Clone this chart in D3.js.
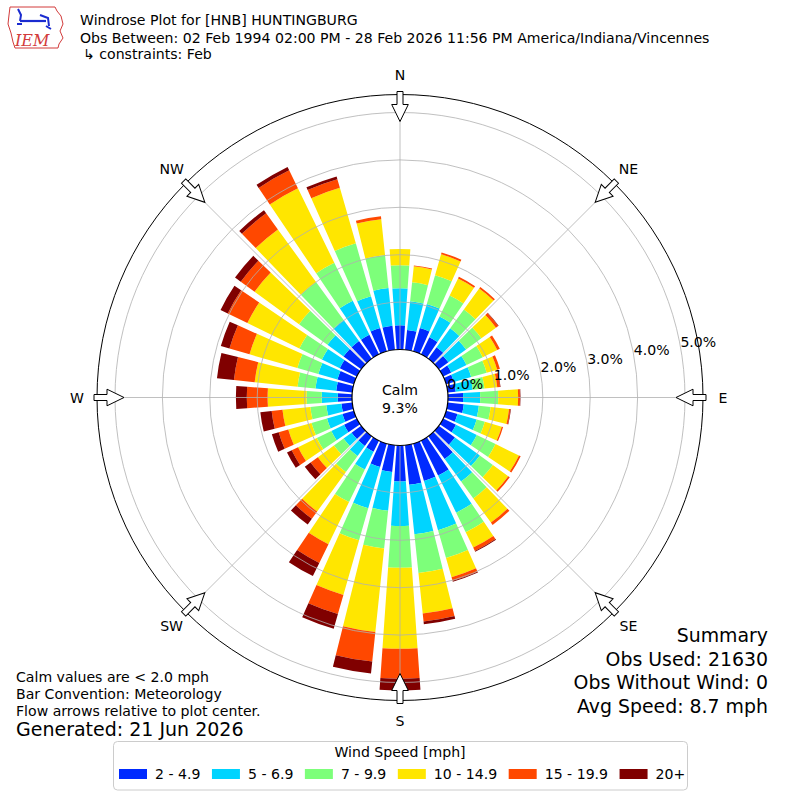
<!DOCTYPE html>
<html>
<head>
<meta charset="utf-8">
<script src="https://cdn.jsdelivr.net/npm/d3@7"></script>
<style>
  body { margin: 0; background: #fff; }
  text { font-family: "DejaVu Sans", sans-serif; fill: #000; }
</style>
</head>
<body>
<svg id="chart" width="800" height="800"></svg>
<script>
// wind directions (degrees, meteorological convention)
const directions = [0, 10, 20, 30, 40, 50, 60, 70, 80, 90, 100, 110, 120, 130, 140, 150, 160, 170,
                    180, 190, 200, 210, 220, 230, 240, 250, 260, 270, 280, 290, 300, 310, 320, 330, 340, 350];

// frequency (%) per speed bin, one value per direction
const s2to4 = [0.51, 0.42, 0.51, 0.40, 0.30, 0.25, 0.19, 0.17, 0.17, 0.32, 0.34, 0.25, 0.30, 0.42, 0.59, 0.82, 0.82, 0.84,
               0.76, 0.57, 0.51, 0.26, 0.25, 0.25, 0.30, 0.25, 0.23, 0.30, 0.34, 0.36, 0.40, 0.46, 0.46, 0.46, 0.51, 0.51];
const s5to6 = [0.78, 0.61, 0.53, 0.49, 0.49, 0.46, 0.36, 0.38, 0.36, 0.36, 0.32, 0.42, 0.49, 0.65, 0.59, 0.87, 1.08, 1.05,
               0.94, 0.82, 0.91, 0.42, 0.26, 0.21, 0.30, 0.34, 0.32, 0.34, 0.44, 0.42, 0.42, 0.42, 0.55, 0.80, 0.70, 0.80];
const s7to9 = [0.49, 0.40, 0.63, 0.49, 0.49, 0.40, 0.38, 0.34, 0.25, 0.38, 0.25, 0.18, 0.44, 0.34, 0.44, 0.46, 0.61, 0.82,
               0.88, 0.80, 0.70, 0.76, 0.42, 0.25, 0.34, 0.34, 0.34, 0.32, 0.38, 0.46, 0.53, 0.74, 0.99, 0.89, 1.16, 0.70];
const s10to14 = [0.34, 0.34, 0.46, 0.40, 0.55, 0.38, 0.34, 0.23, 0.27, 0.42, 0.39, 0.37, 0.55, 0.40, 0.63, 0.36, 0.42, 0.86,
                 1.71, 1.77, 1.20, 0.99, 1.03, 0.42, 0.44, 0.51, 0.59, 0.82, 0.91, 1.05, 1.22, 1.16, 1.37, 1.75, 1.22, 0.76];
const s15to19 = [0.00, 0.02, 0.04, 0.04, 0.04, 0.06, 0.06, 0.06, 0.06, 0.04, 0.03, 0.03, 0.04, 0.04, 0.06, 0.08, 0.08, 0.17,
                 0.63, 0.63, 0.42, 0.44, 0.19, 0.19, 0.15, 0.21, 0.23, 0.44, 0.44, 0.44, 0.46, 0.36, 0.42, 0.42, 0.19, 0.06];
const s20plus = [0.00, 0.00, 0.00, 0.00, 0.00, 0.01, 0.00, 0.00, 0.01, 0.01, 0.01, 0.00, 0.00, 0.00, 0.00, 0.02, 0.02, 0.06,
                 0.25, 0.25, 0.32, 0.31, 0.15, 0.15, 0.11, 0.15, 0.24, 0.23, 0.36, 0.19, 0.17, 0.15, 0.08, 0.08, 0.06, 0.00];

const speedLabels = ["2 - 4.9", "5 - 6.9", "7 - 9.9", "10 - 14.9", "15 - 19.9", "20+"];
const speedColors = ["#002aff", "#00d4ff", "#7dff7a", "#ffe600", "#ff4800", "#800000"];
const ringTicks = [0, 1, 2, 3, 4, 5];
const compass = ["N", "NE", "E", "SE", "S", "SW", "W", "NW"];
const calmPct = 9.3;

const summaryLines = ["Summary", "Obs Used: 21630", "Obs Without Wind: 0", "Avg Speed: 8.7 mph"];
const noteLines = ["Calm values are < 2.0 mph", "Bar Convention: Meteorology", "Flow arrows relative to plot center."];

const svg = d3.select("#chart");
const cx = 400, cy = 397.5;
const outerR = 303;
const rad = deg => deg * Math.PI / 180;

const r = d3.scaleLinear().domain([0, 5]).range([48, 285]);

// ---- header ----
const logo = svg.append("g");
logo.append("path")
  .attr("d", "M10,7 L55,7 L57,11 L61,16 L63,24 L60,31 L63,38 L59,44 L58,48 L15,48 L13,42 L11,33 L8,24 L9,15 Z")
  .attr("fill", "none").attr("stroke", "#d23b3b").attr("stroke-width", 1);
logo.append("path").attr("d", "M20,21 L46,21").attr("stroke", "#1a2bd0").attr("stroke-width", 2.2);
logo.append("path").attr("d", "M18,9 L21,15 L20,21 M17,24 L22,24 M40,15 L48,18 L49,26 M46,26 L51,29")
  .attr("fill", "none").attr("stroke", "#1a2bd0").attr("stroke-width", 2);
logo.append("text").attr("x", 15).attr("y", 46)
  .style("font-family", "'DejaVu Serif', serif").style("font-style", "italic")
  .style("font-size", "16px").style("fill", "#d23b3b").text("IEM");

svg.append("text").attr("x", 80).attr("y", 25).style("font-size", "14.1px")
  .text("Windrose Plot for [HNB] HUNTINGBURG");
svg.append("text").attr("x", 80).attr("y", 43).style("font-size", "14.1px")
  .text("Obs Between: 02 Feb 1994 02:00 PM - 28 Feb 2026 11:56 PM America/Indiana/Vincennes");
svg.append("text").attr("x", 83).attr("y", 59).style("font-size", "14.1px")
  .text("\u21b3 constraints: Feb");

// ---- rose ----
const g = svg.append("g").attr("transform", `translate(${cx},${cy})`);

const keys = ["a", "b", "c", "d", "e", "f"];
const series = [s2to4, s5to6, s7to9, s10to14, s15to19, s20plus];
const rows = directions.map((dir, i) => {
  const row = { dir };
  keys.forEach((k, j) => { row[k] = series[j][i]; });
  return row;
});
const stacked = d3.stack().keys(keys)(rows);

const half = rad(4);
const arc = d3.arc();

g.selectAll("g.layer")
  .data(stacked)
  .join("g")
  .attr("class", "layer")
  .attr("fill", (d, i) => speedColors[i])
  .selectAll("path")
  .data(d => d.filter(v => v[1] - v[0] > 0))
  .join("path")
  .attr("d", d => arc({
    innerRadius: r(d[0]),
    outerRadius: r(d[1]),
    startAngle: rad(d.data.dir) - half,
    endAngle: rad(d.data.dir) + half
  }));

// grid on top of bars
g.selectAll("circle.ring")
  .data(ringTicks.filter(t => t > 0))
  .join("circle")
  .attr("class", "ring")
  .attr("r", d => r(d))
  .attr("fill", "none").attr("stroke", "#b0b0b0").attr("stroke-width", 0.8);

g.selectAll("line.spoke")
  .data(compass.map((c, i) => i * 45))
  .join("line")
  .attr("class", "spoke")
  .attr("x1", d => r(0) * Math.sin(rad(d))).attr("y1", d => -r(0) * Math.cos(rad(d)))
  .attr("x2", d => outerR * Math.sin(rad(d))).attr("y2", d => -outerR * Math.cos(rad(d)))
  .attr("stroke", "#b0b0b0").attr("stroke-width", 0.8);

g.append("circle").attr("r", outerR).attr("fill", "none").attr("stroke", "#000").attr("stroke-width", 1);

// calm circle
g.append("circle").attr("r", r(0)).attr("fill", "#fff").attr("stroke", "#000").attr("stroke-width", 1.2);
g.append("text").attr("y", -3).attr("text-anchor", "middle").style("font-size", "14.1px").text("Calm");
g.append("text").attr("y", 15).attr("text-anchor", "middle").style("font-size", "14.1px")
  .text(d3.format(".1f")(calmPct) + "%");

// ring labels
const labelAngle = rad(79.7);
g.selectAll("text.rlabel")
  .data(ringTicks)
  .join("text")
  .attr("class", "rlabel")
  .attr("x", d => r(d) * Math.sin(labelAngle))
  .attr("y", d => -r(d) * Math.cos(labelAngle))
  .style("font-size", "14.1px")
  .text(d => d3.format(".1f")(d) + "%");

// flow arrows
const arrowPts = [[0, -276], [8.3, -293], [3, -293], [3, -306], [-3, -306], [-3, -293], [-8.3, -293]];
g.selectAll("polygon.arrow")
  .data(compass.map((c, i) => i * 45))
  .join("polygon")
  .attr("class", "arrow")
  .attr("points", arrowPts.map(p => p.join(",")).join(" "))
  .attr("transform", d => `rotate(${d})`)
  .attr("fill", "#fff").attr("stroke", "#000").attr("stroke-width", 1);

// compass labels
g.selectAll("text.compass")
  .data(compass)
  .join("text")
  .attr("class", "compass")
  .attr("x", (d, i) => 323 * Math.sin(rad(i * 45)))
  .attr("y", (d, i) => -323 * Math.cos(rad(i * 45)))
  .attr("text-anchor", "middle").attr("dominant-baseline", "central")
  .style("font-size", "14.1px")
  .text(d => d);

// ---- footer text ----
svg.selectAll("text.summary")
  .data(summaryLines)
  .join("text")
  .attr("class", "summary")
  .attr("x", 768).attr("y", (d, i) => 642 + i * 23.5)
  .attr("text-anchor", "end").style("font-size", "18.9px")
  .text(d => d);

svg.selectAll("text.note")
  .data(noteLines)
  .join("text")
  .attr("class", "note")
  .attr("x", 16).attr("y", (d, i) => 682 + i * 17)
  .style("font-size", "14.1px")
  .text(d => d);

svg.append("text").attr("x", 16).attr("y", 736).style("font-size", "19px").text("Generated: 21 Jun 2026");

// ---- legend ----
const legend = svg.append("g");
legend.append("rect")
  .attr("x", 113.5).attr("y", 741.5).attr("width", 574).attr("height", 48.5)
  .attr("rx", 4).attr("fill", "#fff").attr("stroke", "#cccccc").attr("stroke-width", 1);
legend.append("text").attr("x", 400).attr("y", 757).attr("text-anchor", "middle")
  .style("font-size", "14.1px").text("Wind Speed [mph]");

let lx = 119;
speedLabels.forEach((lab, i) => {
  legend.append("rect").attr("x", lx).attr("y", 769).attr("width", 28).attr("height", 10)
    .attr("fill", speedColors[i]);
  const t = legend.append("text").attr("x", lx + 36).attr("y", 779)
    .style("font-size", "14.1px").text(lab);
  lx += 36 + t.node().getComputedTextLength() + 11.5;
});
</script>
</body>
</html>
